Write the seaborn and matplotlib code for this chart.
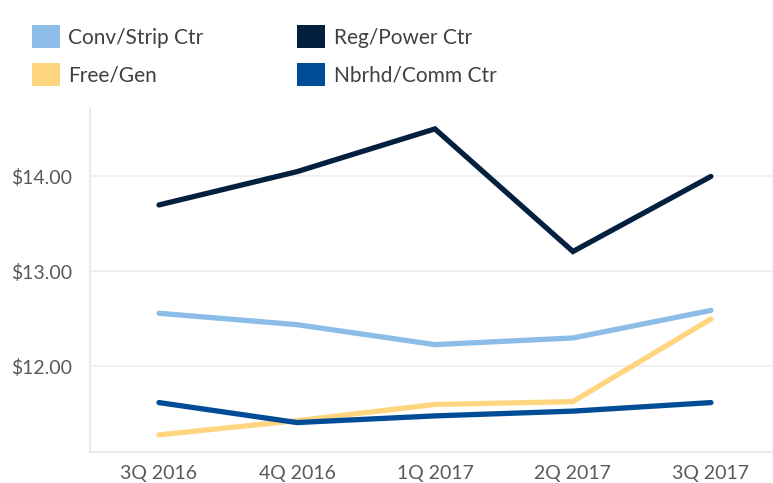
import matplotlib
matplotlib.use("Agg")
import matplotlib.pyplot as plt
from matplotlib.patches import Patch
from matplotlib.ticker import FixedLocator, FuncFormatter
import seaborn as sns
import pandas as pd

quarters = ["3Q 2016", "4Q 2016", "1Q 2017", "2Q 2017", "3Q 2017"]
conv_strip = [12.56, 12.44, 12.23, 12.30, 12.59]
reg_power = [13.70, 14.05, 14.50, 13.21, 14.00]
free_gen = [11.28, 11.43, 11.60, 11.63, 12.50]
nbrhd_comm = [11.62, 11.41, 11.48, 11.53, 11.62]

series_names = ["Conv/Strip Ctr", "Free/Gen", "Reg/Power Ctr", "Nbrhd/Comm Ctr"]
series_values = [conv_strip, free_gen, reg_power, nbrhd_comm]
colors = {"Conv/Strip Ctr": "#8CBDE6", "Free/Gen": "#FFD580",
          "Reg/Power Ctr": "#03203F", "Nbrhd/Comm Ctr": "#004C97"}

rows = []
for name, vals in zip(series_names, series_values):
    for i, (q, v) in enumerate(zip(quarters, vals)):
        rows.append({"quarter": q, "x": i, "value": v, "series": name})
df = pd.DataFrame(rows)

sns.set_style("white")
plt.rcParams["font.family"] = ["Lato", "DejaVu Sans"]

fig = plt.figure(figsize=(7.73, 4.83), dpi=100)
ax = fig.add_axes([90/773, 1-452/483, (773-90)/773, (452-108)/483])

sns.lineplot(data=df, x="x", y="value", hue="series", palette=colors,
             hue_order=series_names, linewidth=3.8, ax=ax, legend=False,
             solid_capstyle="round", solid_joinstyle="miter")

ax.set_xlim(-0.5, 4.45)
ax.set_ylim(11.1, 14.72)
ax.set_yticks([12, 13, 14])
ax.yaxis.set_major_formatter(FuncFormatter(lambda v, p: f"${v:.2f}"))
ax.set_xticks(range(len(quarters)))
ax.set_xticklabels(quarters)
ax.xaxis.set_minor_locator(FixedLocator([-0.5, 0.5, 1.5, 2.5, 3.5]))
ax.tick_params(axis="x", which="major", length=0, pad=9, labelsize=14, labelcolor="#595959")
ax.tick_params(axis="x", which="minor", length=10, width=1, color="#E6E6E6")
ax.tick_params(axis="y", length=0, pad=13, labelsize=14, labelcolor="#595959")
ax.grid(axis="y", color="#EEEEEE", linewidth=1.2)
ax.set_xlabel("")
ax.set_ylabel("")
for s in ["top", "right"]:
    ax.spines[s].set_visible(False)
for s in ["left", "bottom"]:
    ax.spines[s].set_color("#E6E6E6")
    ax.spines[s].set_linewidth(1.2)

handles = [Patch(facecolor=colors[n], edgecolor="none", label=n) for n in series_names]
fig.legend(handles=handles, loc="upper left", bbox_to_anchor=(22/773, 1-15/483),
           ncol=2, frameon=False, fontsize=15, labelcolor="#404040",
           handlelength=1.3, handleheight=1.3, handletextpad=0.43,
           columnspacing=4.5, labelspacing=0.72, borderpad=0)

fig.savefig("out.png", dpi=100)
